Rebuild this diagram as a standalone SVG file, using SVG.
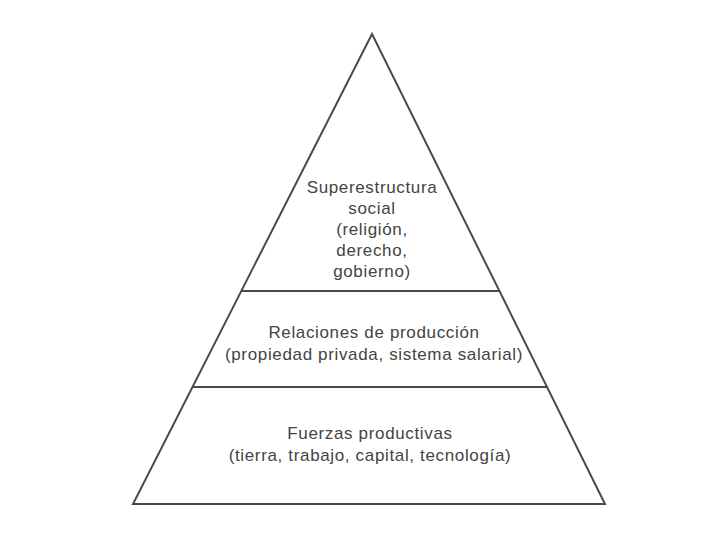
<svg xmlns="http://www.w3.org/2000/svg" width="712" height="534" viewBox="0 0 712 534">
<style>
.ln{stroke:#4a4a4a;stroke-width:2;fill:none;stroke-linejoin:miter}
.t{font-family:"Liberation Sans",Arial,sans-serif;font-size:17px;fill:#444444;text-anchor:middle;letter-spacing:0.65px}
</style>
<rect width="712" height="534" fill="#ffffff"/>
<g id="connectors">
<polygon class="ln" points="372,34 133,504 605,504"/>
<line class="ln" x1="241" y1="291" x2="500" y2="291"/>
<line class="ln" x1="193" y1="387" x2="548" y2="387"/>
</g>
<g id="superestructura">
<text class="t" x="372" y="193">Superestructura</text>
<text class="t" x="372" y="214">social</text>
<text class="t" x="372" y="235">(religión,</text>
<text class="t" x="372" y="256">derecho,</text>
<text class="t" x="372" y="277">gobierno)</text>
</g>
<g id="relaciones">
<text class="t" x="374" y="338">Relaciones de producción</text>
<text class="t" x="374" y="360">(propiedad privada, sistema salarial)</text>
</g>
<g id="fuerzas">
<text class="t" x="370" y="439">Fuerzas productivas</text>
<text class="t" x="370" y="461">(tierra, trabajo, capital, tecnología)</text>
</g>
</svg>
